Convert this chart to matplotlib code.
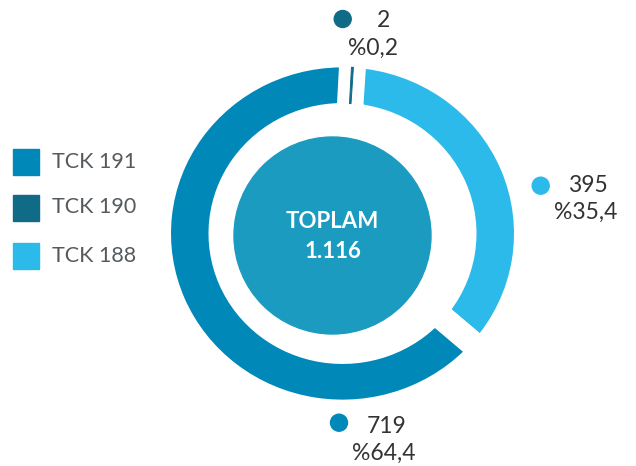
import matplotlib
matplotlib.use("Agg")
import matplotlib.pyplot as plt
from matplotlib.patches import Circle, Rectangle

# ---- data ----
categories = ["TCK 190", "TCK 188", "TCK 191"]       # clockwise order around the ring, starting at top
values = [2, 395, 719]
colors = ["#106C86", "#2BBAE9", "#0088B8"]
legend_order = ["TCK 191", "TCK 190", "TCK 188"]
total = sum(values)

W, H = 636, 466
fig = plt.figure(figsize=(W / 100, H / 100), dpi=100)

# ---- ring axes (data units ~ pixels, slight vertical squash like the reference) ----
cx, cy = 342.5, 233.5
k = 166.5 / 171.5
ax = fig.add_axes([0, 0, 1, 1])
gap_px = 25.0
gap_pt = gap_px * 72 / 100
r_out, r_in = 171.5, 134.0
wedges, _ = ax.pie(values, colors=colors, startangle=87, counterclock=False,
                   radius=r_out + gap_px / 2,
                   wedgeprops=dict(width=(r_out - r_in) + gap_px,
                                   edgecolor="white", linewidth=gap_pt))
# tiny slice: keep it visible as a thin line on top of the white separators
small = wedges[0]
small.set_radius(r_out)
small.set_width(r_out - r_in)
small.set_edgecolor(colors[0])
small.set_linewidth(0.7)
small.set_zorder(5)
ax.set_aspect("auto")
ax.set_xlim(-cx, W - cx)
ax.set_ylim(-(H - cy) / k, cy / k)
ax.axis("off")

# ---- overlay axes in pixel coordinates ----
ov = fig.add_axes([0, 0, 1, 1], facecolor="none")
ov.set_xlim(0, W)
ov.set_ylim(H, 0)
ov.axis("off")

ov.add_patch(Circle((332.5, 235.5), 98.5, color="#1C9BC0", zorder=2))
font_b = ["Lato", "DejaVu Sans"]
ov.text(332.5, 228, "TOPLAM", ha="center", va="baseline", color="white",
        fontsize=16, fontweight="bold", family=font_b, zorder=3)
ov.text(332.5, 258.3, f"{total:,}".replace(",", "."), ha="center", va="baseline",
        color="white", fontsize=16, fontweight="bold", family=font_b, zorder=3)

# legend
leg_tops = [149, 195, 243.3]
leg_base = [167.7, 213.3, 261.7]
for name, top, base in zip(legend_order, leg_tops, leg_base):
    c = colors[categories.index(name)]
    ov.add_patch(Rectangle((13, top), 26, 26, color=c))
    ov.text(52, base, name, ha="left", va="baseline", color="#555a5e",
            fontsize=15.5, fontweight="normal", family=font_b)

# value labels
lab = {
    "TCK 190": dict(dot=(342.7, 19), v=(377, 26.7), p=(348, 55)),
    "TCK 188": dict(dot=(540.7, 185.7), v=(568, 192), p=(554, 219)),
    "TCK 191": dict(dot=(339, 422.7), v=(367, 433), p=(352, 460)),
}
for name, v, c in zip(categories, values, colors):
    d = lab[name]
    ov.add_patch(Circle(d["dot"], 8.5, color=c))
    ov.text(*d["v"], f"{v}", ha="left", va="baseline", color="#333333",
            fontsize=16.5, family=font_b)
    pct = f"%{v / total * 100:.1f}".replace(".", ",")
    ov.text(*d["p"], pct, ha="left", va="baseline", color="#333333",
            fontsize=16.5, family=font_b)

fig.savefig("out.png", dpi=100)
